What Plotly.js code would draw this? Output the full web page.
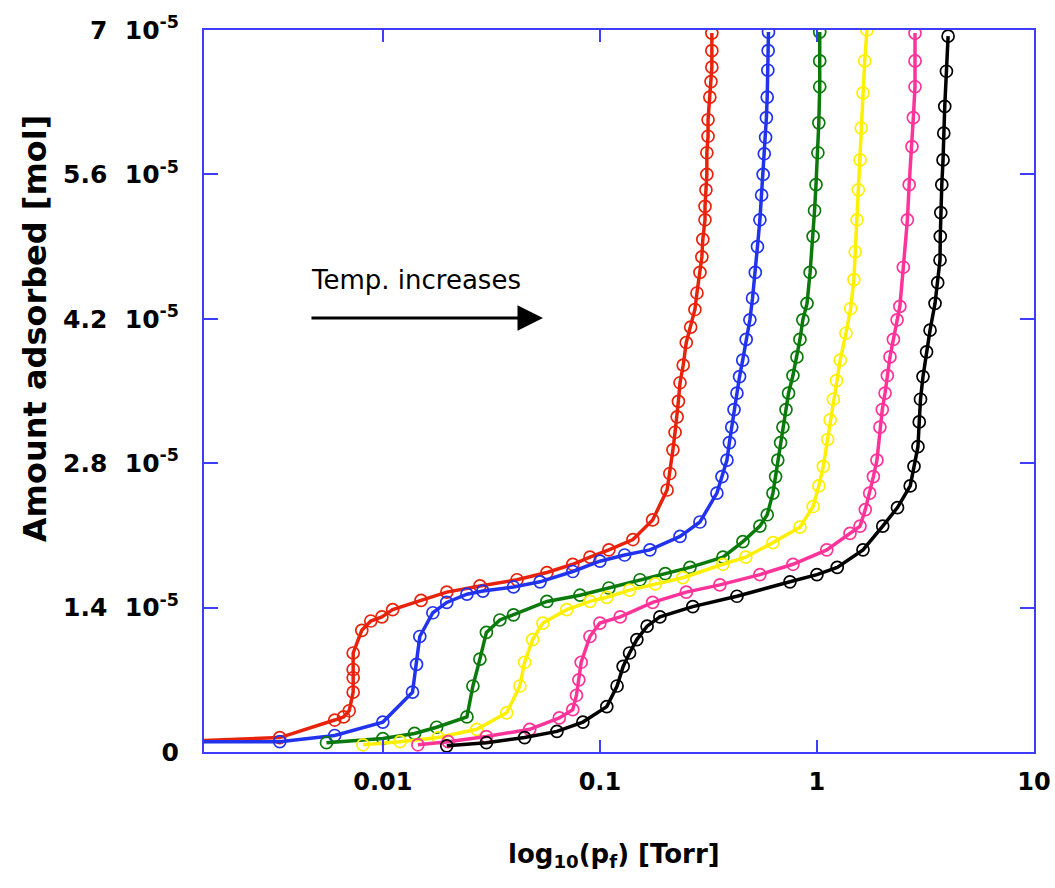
<!DOCTYPE html>
<html>
<head>
<meta charset="utf-8">
<script src="https://cdn.plot.ly/plotly-3.0.1.min.js"></script>
<style>html,body{margin:0;padding:0;background:#fff;}#chart{width:1055px;height:888px;}</style>
</head>
<body>
<div id="chart"></div>
<script>
// pressure p_f [Torr] and amount adsorbed [10^-5 mol]
const SCALE = 1e-5;
const redX = [0.0014,0.00335,0.0060,0.0066,0.0070,0.0073,0.0073,0.0073,0.0073,0.0080,0.0088,0.0099,0.0111,0.0150,0.0197,0.028,0.0415,0.057,0.075,0.090,0.110,0.142,0.175,0.204,0.210,0.217,0.222,0.227,0.230,0.234,0.242,0.250,0.262,0.274,0.280,0.289,0.295,0.298,0.305,0.305,0.308,0.311,0.311,0.315,0.315,0.321,0.325,0.328,0.328,0.328];
const redY = [0.11,0.14,0.31,0.34,0.40,0.58,0.72,0.80,0.96,1.18,1.27,1.31,1.38,1.47,1.55,1.61,1.67,1.74,1.82,1.89,1.96,2.06,2.25,2.54,2.70,2.93,3.10,3.25,3.40,3.58,3.75,3.97,4.12,4.29,4.45,4.65,4.80,4.97,5.16,5.29,5.45,5.60,5.81,5.97,6.13,6.35,6.50,6.64,6.80,6.97];
const blueX = [0.0014,0.00335,0.0060,0.0100,0.0137,0.0143,0.0148,0.0170,0.0197,0.0244,0.0289,0.040,0.053,0.075,0.100,0.130,0.170,0.234,0.289,0.346,0.365,0.385,0.395,0.405,0.415,0.428,0.440,0.455,0.472,0.491,0.505,0.520,0.532,0.546,0.556,0.565,0.572,0.580,0.585,0.590,0.594,0.596,0.598];
const blueY = [0.10,0.10,0.16,0.29,0.58,0.85,1.12,1.35,1.45,1.53,1.56,1.60,1.65,1.75,1.85,1.91,1.96,2.09,2.23,2.51,2.67,2.83,3.00,3.15,3.32,3.48,3.64,3.80,4.00,4.19,4.40,4.65,4.90,5.16,5.40,5.60,5.80,5.96,6.15,6.35,6.61,6.80,6.98];
const greenX = [0.0055,0.0100,0.0140,0.0177,0.0244,0.0260,0.0280,0.0300,0.0346,0.040,0.057,0.081,0.110,0.153,0.200,0.260,0.369,0.456,0.546,0.590,0.627,0.645,0.660,0.680,0.697,0.720,0.740,0.775,0.809,0.835,0.861,0.90,0.93,0.96,0.975,0.99,1.01,1.02,1.03,1.03,1.03];
const greenY = [0.09,0.13,0.18,0.24,0.34,0.64,0.90,1.16,1.28,1.33,1.46,1.52,1.59,1.67,1.73,1.79,1.89,2.04,2.19,2.30,2.51,2.67,2.83,3.00,3.15,3.32,3.48,3.65,3.83,4.00,4.19,4.35,4.65,5.00,5.25,5.50,5.81,6.10,6.45,6.70,6.98];
const yellowX = [0.0081,0.0120,0.0180,0.0271,0.0372,0.0428,0.0450,0.0490,0.0546,0.0704,0.090,0.1076,0.137,0.180,0.241,0.369,0.470,0.627,0.835,0.960,1.02,1.07,1.12,1.15,1.19,1.23,1.28,1.36,1.43,1.48,1.50,1.53,1.55,1.58,1.60,1.63,1.66,1.70];
const yellowY = [0.07,0.10,0.14,0.22,0.38,0.64,0.87,1.09,1.25,1.38,1.46,1.50,1.57,1.63,1.69,1.82,1.89,2.03,2.18,2.38,2.58,2.77,3.03,3.22,3.42,3.60,3.80,4.06,4.30,4.58,4.85,5.16,5.45,5.74,6.05,6.39,6.70,7.00];
const pinkX = [0.0145,0.020,0.030,0.0475,0.065,0.075,0.078,0.080,0.082,0.090,0.100,0.124,0.175,0.250,0.357,0.546,0.775,1.11,1.42,1.58,1.67,1.75,1.82,1.89,1.95,2.00,2.06,2.11,2.17,2.25,2.34,2.41,2.50,2.61,2.66,2.74,2.78,2.83,2.83,2.83];
const pinkY = [0.07,0.10,0.15,0.22,0.33,0.41,0.55,0.70,0.87,1.12,1.25,1.31,1.45,1.55,1.62,1.72,1.82,1.96,2.12,2.19,2.35,2.51,2.67,2.83,3.15,3.32,3.48,3.65,3.83,4.00,4.19,4.32,4.70,5.16,5.50,5.87,6.15,6.45,6.70,6.97];
const blackX = [0.0197,0.030,0.045,0.0634,0.0835,0.1076,0.120,0.128,0.137,0.148,0.165,0.189,0.268,0.428,0.751,1.00,1.24,1.63,2.01,2.35,2.69,2.80,2.92,2.96,3.00,3.08,3.20,3.32,3.50,3.60,3.69,3.70,3.72,3.76,3.81,3.84,3.88,3.95,4.02];
const blackY = [0.06,0.09,0.14,0.20,0.29,0.44,0.64,0.83,0.96,1.09,1.22,1.31,1.41,1.51,1.65,1.72,1.79,1.96,2.19,2.37,2.58,2.77,2.96,3.20,3.42,3.64,3.88,4.09,4.35,4.55,4.77,5.00,5.23,5.50,5.74,6.00,6.26,6.60,6.94];

const xTickVals = [0.01, 0.1, 1, 10];
const xTickText = ['0.01', '0.1', '1', '10'];
const yTickVals = [0, 1.4, 2.8, 4.2, 5.6, 7];
const yTickText = ['0', '1.4&nbsp;&nbsp;10<sup>-5</sup>', '2.8&nbsp;&nbsp;10<sup>-5</sup>', '4.2&nbsp;&nbsp;10<sup>-5</sup>', '5.6&nbsp;&nbsp;10<sup>-5</sup>', '7&nbsp;&nbsp;10<sup>-5</sup>'];

const series = [
  {x: redX, y: redY, color: '#e8230c'},
  {x: blueX, y: blueY, color: '#2233ee'},
  {x: greenX, y: greenY, color: '#0a7a0a'},
  {x: yellowX, y: yellowY, color: '#fff000'},
  {x: pinkX, y: pinkY, color: '#ff3399'},
  {x: blackX, y: blackY, color: '#000000'}
];

const traces = series.map(s => ({
  type: 'scatter', mode: 'lines+markers',
  x: s.x, y: s.y.map(v => v * SCALE),
  line: {color: s.color, width: 3.5},
  marker: {symbol: 'circle-open', size: 12, color: s.color, line: {width: 1.7, color: s.color}},
  showlegend: false
}));

const axisColor = '#3d3dff';
const FONT = 'DejaVu Sans, Arial, sans-serif';
const layout = {
  width: 1055, height: 888,
  margin: {l: 204, r: 21, t: 30, b: 136},
  paper_bgcolor: '#fff', plot_bgcolor: '#fff',
  font: {family: FONT, color: '#000'},
  xaxis: {
    type: 'log', range: [Math.log10(0.0015), 1],
    tickvals: xTickVals, ticktext: xTickText,
    ticks: 'inside', ticklen: 12, tickwidth: 2, tickcolor: axisColor,
    showline: true, linecolor: axisColor, linewidth: 2, mirror: 'ticks',
    showgrid: false, zeroline: false,
    tickfont: {family: FONT, size: 24, color: '#000', weight: 'bold'},
    ticklabelstandoff: 7
  },
  yaxis: {
    range: [0, 7 * SCALE],
    tickvals: yTickVals.map(v => v * SCALE), ticktext: yTickText,
    ticks: 'inside', ticklen: 14, tickwidth: 2, tickcolor: axisColor,
    showline: true, linecolor: axisColor, linewidth: 2, mirror: 'ticks',
    showgrid: false, zeroline: false,
    tickfont: {family: FONT, size: 25, color: '#000', weight: 'bold'},
    ticklabelstandoff: 18
  },
  annotations: [
    {xref: 'paper', yref: 'paper', x: -0.2036, y: 0.587, textangle: -90,
     text: '<b>Amount adsorbed [mol]</b>', showarrow: false,
     font: {family: FONT, size: 32, color: '#000'}, xanchor: 'center', yanchor: 'middle'},
    {xref: 'paper', yref: 'paper', x: 0.494, y: -0.143,
     text: '<b>log<sub>10</sub>(p<sub>f</sub>) [Torr]</b>', showarrow: false,
     font: {family: FONT, size: 26, color: '#000'}, xanchor: 'center', yanchor: 'middle'},
    {xref: 'paper', yref: 'paper', x: 0.127, y: 0.654, text: 'Temp. increases',
     showarrow: false, xanchor: 'left', yanchor: 'middle', font: {family: FONT, size: 26, color: '#000'}},
    {xref: 'paper', yref: 'paper', x: 0.4084, y: 0.601, text: '', showarrow: true,
     ax: -233, ay: 0, arrowhead: 2, arrowsize: 1.7, arrowwidth: 3, arrowcolor: '#000'}
  ]
};

Plotly.newPlot('chart', traces, layout, {displayModeBar: false, staticPlot: true});
</script>
</body>
</html>
